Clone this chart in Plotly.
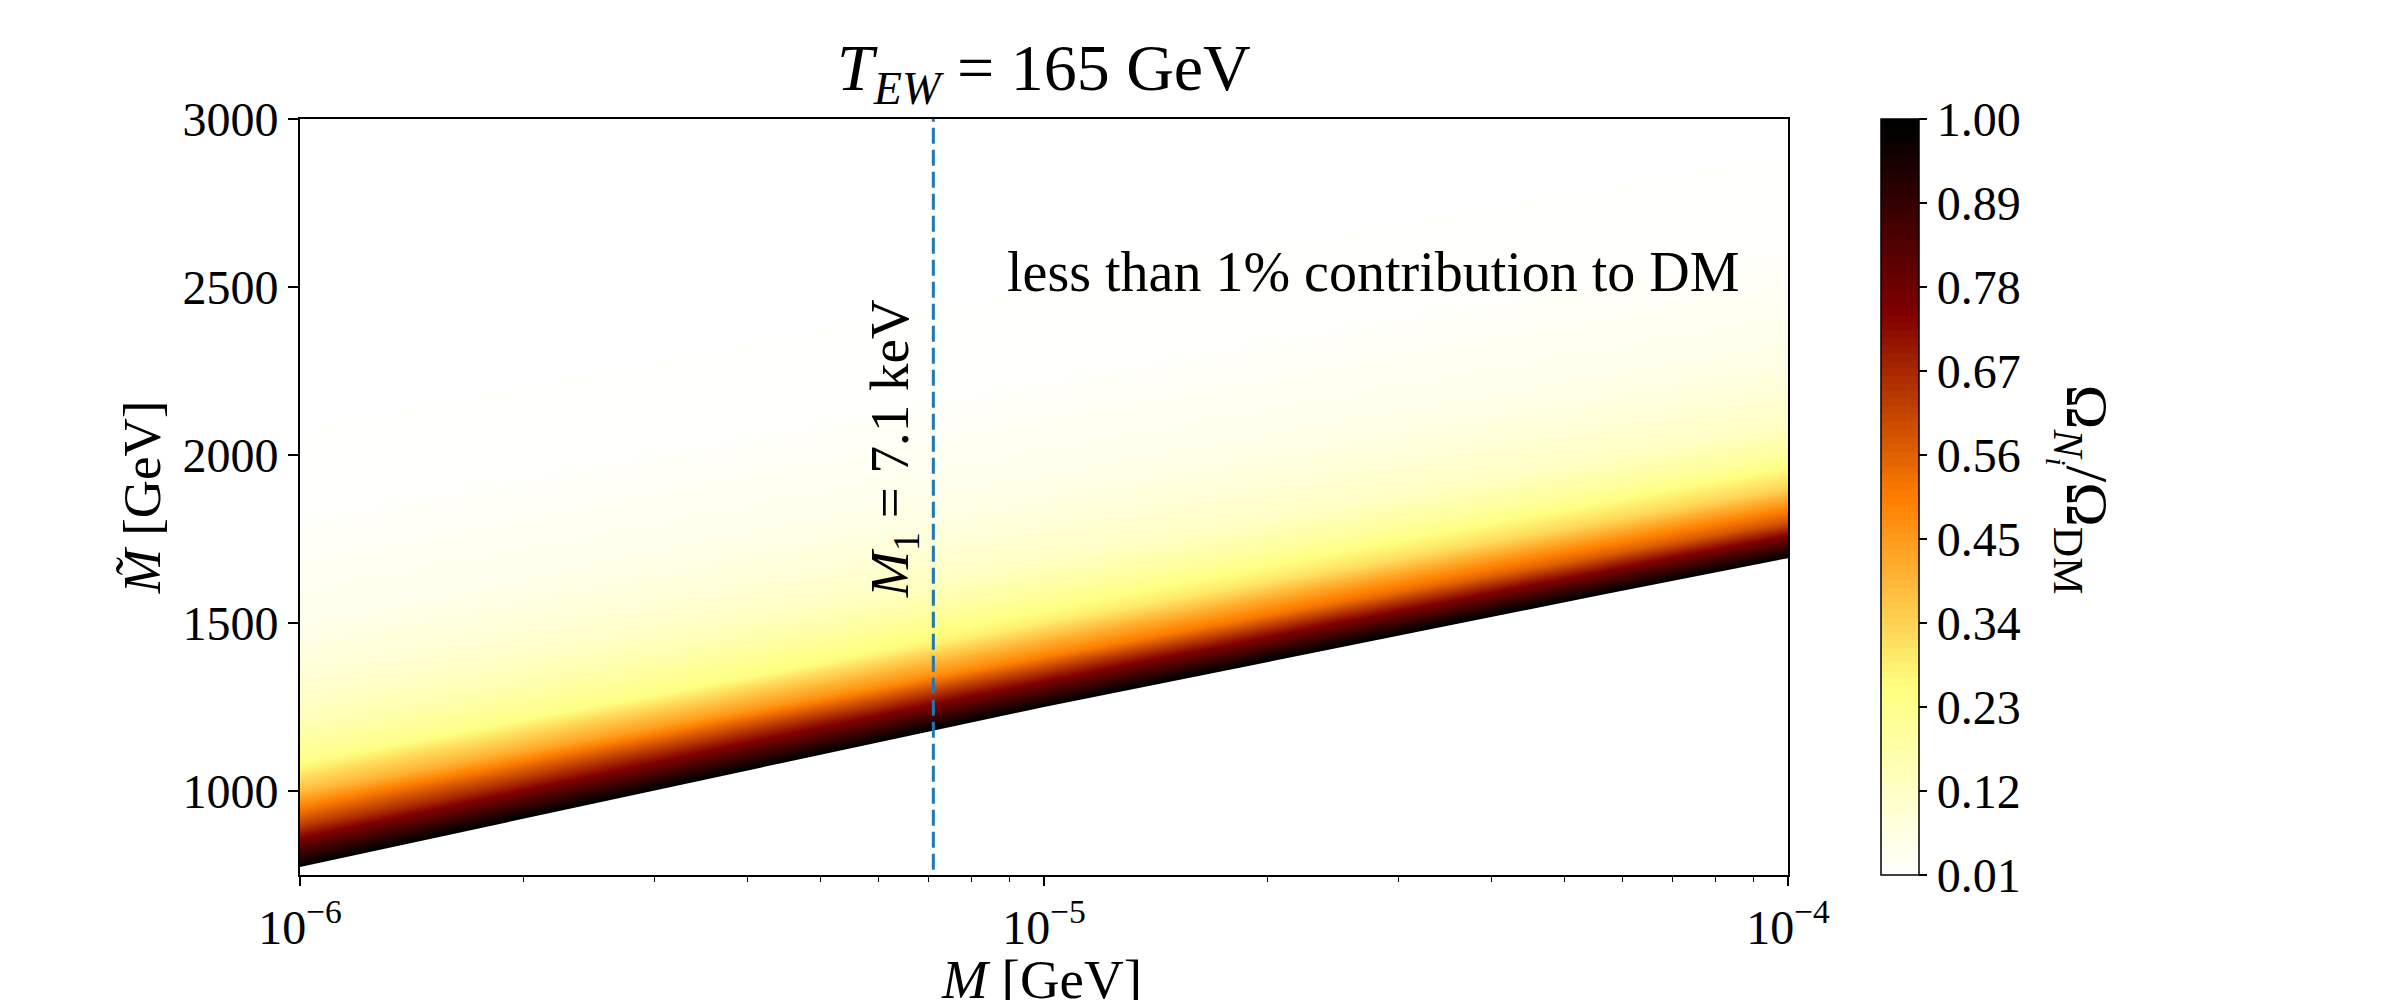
import numpy as np
import plotly.graph_objects as go

# sterile neutrino mass M [GeV] (columns, quarter decades) and M-tilde [GeV] (rows)
m_cols = [1e-6, 10**-5.75, 10**-5.5, 10**-5.25, 1e-5, 10**-4.75, 10**-4.5, 10**-4.25, 1e-4]
mt_rows = [700, 800, 900, 1000, 1100, 1200, 1300, 1400, 1500, 1600, 1700, 1800,
           1900, 2000, 2100, 2200, 2300, 2400, 2500, 2600, 2700, 2800, 2900, 3000]

# Omega_N / Omega_DM read along each column (values > 1 lie under the white region)
omega_m600 = [1.22, 0.92, 0.62, 0.38, 0.224, 0.152, 0.104, 0.076, 0.049, 0.039, 0.028, 0.019,
              0.016, 0.012, 0.0094, 0.0069, 0.0044, 0.0019, 0, 0, 0, 0, 0, 0]
omega_m575 = [1.59, 1.28, 0.98, 0.674, 0.409, 0.234, 0.161, 0.107, 0.079, 0.050, 0.0395, 0.0289,
              0.0194, 0.0161, 0.0127, 0.0095, 0.0070, 0.0045, 0.0020, 0, 0, 0, 0, 0]
omega_m550 = [1.97, 1.66, 1.35, 1.04, 0.73, 0.44, 0.245, 0.17, 0.110, 0.081, 0.053, 0.040,
              0.030, 0.0196, 0.0163, 0.013, 0.0097, 0.0072, 0.0047, 0.0022, 0, 0, 0, 0]
omega_m525 = [2.40, 2.08, 1.75, 1.43, 1.10, 0.78, 0.467, 0.264, 0.178, 0.113, 0.0836, 0.0543,
              0.0408, 0.0301, 0.0198, 0.0165, 0.0132, 0.0099, 0.0074, 0.0049, 0.0024, 0, 0, 0]
omega_m500 = [2.83, 2.50, 2.17, 1.83, 1.50, 1.17, 0.83, 0.496, 0.29, 0.187, 0.116, 0.086,
              0.056, 0.041, 0.031, 0.020, 0.0167, 0.0133, 0.010, 0.0075, 0.005, 0.0025, 0, 0]
omega_m475 = [3.31, 2.96, 2.61, 2.26, 1.91, 1.57, 1.22, 0.867, 0.518, 0.305, 0.191, 0.116,
              0.0861, 0.0558, 0.0414, 0.0307, 0.020, 0.0167, 0.0133, 0.010, 0.0075, 0.005, 0.0025, 0]
omega_m450 = [3.79, 3.43, 3.07, 2.71, 2.35, 1.99, 1.63, 1.27, 0.91, 0.547, 0.32, 0.196,
              0.118, 0.087, 0.056, 0.041, 0.031, 0.020, 0.0166, 0.0133, 0.010, 0.0075, 0.005, 0.0025]
omega_m425 = [4.33, 3.96, 3.58, 3.20, 2.82, 2.45, 2.07, 1.69, 1.32, 0.94, 0.568, 0.331,
              0.198, 0.118, 0.0864, 0.0551, 0.0411, 0.0304, 0.0199, 0.0166, 0.0132, 0.0099, 0.0074, 0.0049]
omega_m400 = [4.90, 4.51, 4.12, 3.72, 3.33, 2.94, 2.54, 2.15, 1.76, 1.37, 0.97, 0.587,
              0.34, 0.20, 0.118, 0.086, 0.054, 0.041, 0.030, 0.0198, 0.0164, 0.0131, 0.0098, 0.0073]

# where Omega_N reaches Omega_DM (lower edge of the coloured band)
mt_edge = [774, 894, 1014, 1132, 1250, 1362, 1474, 1584, 1693]

m1_line = 7.1e-6  # 7.1 keV
cbar_ticks = [0.01, 0.12, 0.23, 0.34, 0.45, 0.56, 0.67, 0.78, 0.89, 1.00]

z = [list(r) for r in zip(omega_m600, omega_m575, omega_m550, omega_m525, omega_m500,
                          omega_m475, omega_m450, omega_m425, omega_m400)]

# afmhot reversed
afmhot_r = [[0.0, "rgb(255,255,255)"], [0.25, "rgb(255,255,128)"],
            [0.5, "rgb(255,128,0)"], [0.75, "rgb(128,0,0)"], [1.0, "rgb(0,0,0)"]]

FONT = "Liberation Serif"

fig = go.Figure()
fig.add_trace(go.Contour(
    x=m_cols, y=mt_rows, z=z,
    colorscale=afmhot_r, zmin=0.01, zmax=1.0,
    contours=dict(start=0.01, end=1.0, size=0.0099, coloring="fill", showlines=False),
    line=dict(width=0),
    colorbar=dict(x=1.0625, xanchor="left", xpad=0, y=0.5, yanchor="middle", ypad=0,
                  len=1, lenmode="fraction", thickness=38,
                  outlinecolor="black", outlinewidth=1.5,
                  tickvals=cbar_ticks, ticktext=["%.2f" % t for t in cbar_ticks],
                  ticks="outside", ticklen=8, tickwidth=1.5, tickcolor="black",
                  tickfont=dict(family=FONT, size=48, color="black")),
    showscale=True, hoverinfo="skip",
))

# white below the edge
fig.add_trace(go.Scatter(x=m_cols, y=mt_edge, mode="lines", fill="tozeroy",
                         fillcolor="white", line=dict(width=0), showlegend=False,
                         hoverinfo="skip"))

# M1 = 7.1 keV line
fig.add_trace(go.Scatter(x=[m1_line, m1_line], y=[mt_rows[0], mt_rows[-1]], mode="lines",
                         line=dict(color="#1f77b4", width=3, dash="16px,6px"),
                         showlegend=False, hoverinfo="skip"))

axis_common = dict(showline=True, linecolor="black", linewidth=2, mirror=True,
                   ticks="outside", tickcolor="black", tickwidth=1.5, showgrid=False,
                   zeroline=False, tickfont=dict(family=FONT, size=48, color="black"))

fig.update_xaxes(type="log", range=[-6, -4], tickvals=[1e-6, 1e-5, 1e-4],
                 ticktext=["10<sup>−6</sup>", "10<sup>−5</sup>", "10<sup>−4</sup>"],
                 ticklen=9,
                 minor=dict(ticks="outside", ticklen=5, tickwidth=1, tickcolor="black",
                            tickvals=[k * 10.0**e for e in (-6, -5) for k in range(2, 10)]),
                 **axis_common)
fig.update_yaxes(range=[750, 3000], tickvals=[1000, 1500, 2000, 2500, 3000], ticklen=10,
                 **axis_common)

annots = [
    dict(text="<i>T</i><sub><i>EW</i></sub> = 165 GeV", xref="paper", yref="paper",
         x=0.5, y=1.062, xanchor="center", yanchor="middle", font=dict(size=66)),
    dict(text="<i>M</i> [GeV]", xref="paper", yref="paper", x=0.498, y=-0.095,
         xanchor="center", yanchor="top", font=dict(size=55)),
    dict(text="<i>M̃</i> [GeV]", xref="paper", yref="paper", x=-0.106, y=0.5,
         xanchor="center", yanchor="middle", textangle=-90, font=dict(size=53)),
    dict(text="less than 1% contribution to DM", xref="paper", yref="paper",
         x=0.7215, y=0.7976, xanchor="center", yanchor="middle", font=dict(size=56)),
    dict(text="<i>M</i><sub>1</sub> = 7.1 keV", xref="x", yref="y", x=np.log10(m1_line),
         y=2020, xanchor="right", yanchor="middle", xshift=-4, textangle=-90,
         font=dict(size=55)),
    dict(text="Ω<sub><i>N</i><sub><i>i</i></sub></sub>/Ω<sub>DM</sub>", xref="paper",
         yref="paper", x=1.196, y=0.51, xanchor="center", yanchor="middle", textangle=90,
         font=dict(size=60)),
]
for a in annots:
    a["showarrow"] = False
    a["font"]["family"] = FONT
    a["font"]["color"] = "black"
    fig.add_annotation(**a)

fig.update_layout(width=2392, height=992, plot_bgcolor="white", paper_bgcolor="white",
                  margin=dict(l=292, r=612, t=111, b=125), showlegend=False,
                  font=dict(family=FONT, color="black"))

fig.write_html("out.html")
